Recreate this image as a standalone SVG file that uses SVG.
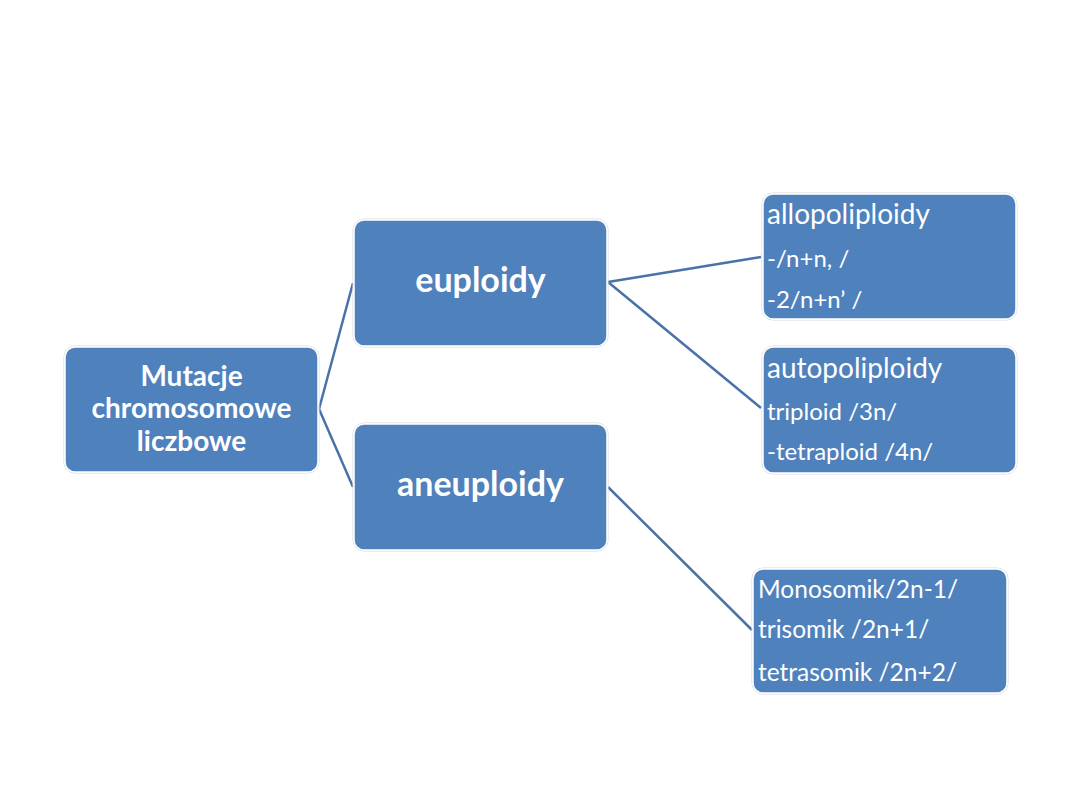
<svg xmlns="http://www.w3.org/2000/svg" width="1080" height="810" viewBox="0 0 1080 810">
<style>
.box{fill:#4F81BD;stroke:#ffffff;stroke-width:1.5}
.sh{fill:none;stroke:#d9d9d9;stroke-width:1}
.b{font-family:Lato,"Liberation Sans",sans-serif;font-weight:bold;fill:#ffffff;text-anchor:middle}
.r{font-family:Lato,"Liberation Sans",sans-serif;fill:#ffffff}
.con{stroke:#4A72A8;stroke-width:2.5;fill:none}
</style>
<rect width="1080" height="810" fill="#ffffff"/>
<g id="connectors">
<line class="con" x1="319" y1="409" x2="353" y2="283"/>
<line class="con" x1="319" y1="409" x2="353" y2="487"/>
<line class="con" x1="608" y1="282" x2="761" y2="257"/>
<line class="con" x1="608" y1="282" x2="761" y2="408"/>
<line class="con" x1="608" y1="487" x2="752" y2="630"/>
</g>
<g id="mutacje">
<rect class="sh" x="64" y="346" width="255" height="127" rx="11"/>
<rect class="box" x="65" y="347" width="253" height="125" rx="10"/>
<text class="b" font-size="28"><tspan x="191.5" y="386">Mutacje</tspan><tspan x="191.5" y="418">chromosomowe</tspan><tspan x="191.5" y="451">liczbowe</tspan></text>
</g>
<g id="euploidy">
<rect class="sh" x="353" y="219" width="255" height="128" rx="11"/>
<rect class="box" x="354" y="220" width="253" height="126" rx="10"/>
<text class="b" font-size="34" x="480.5" y="292">euploidy</text>
</g>
<g id="aneuploidy">
<rect class="sh" x="353" y="423" width="255" height="128" rx="11"/>
<rect class="box" x="354" y="424" width="253" height="126" rx="10"/>
<text class="b" font-size="34" x="480.5" y="496">aneuploidy</text>
</g>
<g id="allopoliploidy">
<rect class="sh" x="762" y="193" width="255" height="127" rx="11"/>
<rect class="box" x="763" y="194" width="253" height="125" rx="10"/>
<text class="r" font-size="28" x="767" y="224">allopoliploidy</text>
<text class="r" font-size="24" x="767" y="267">-/n+n, /</text>
<text class="r" font-size="24" x="767" y="308">-2/n+n’ /</text>
</g>
<g id="autopoliploidy">
<rect class="sh" x="762" y="346" width="255" height="128" rx="11"/>
<rect class="box" x="763" y="347" width="253" height="126" rx="10"/>
<text class="r" font-size="28" x="767" y="378">autopoliploidy</text>
<text class="r" font-size="24" x="767" y="420">triploid /3n/</text>
<text class="r" font-size="24" x="767" y="460">-tetraploid /4n/</text>
</g>
<g id="aneuploidy-types">
<rect class="sh" x="752" y="568" width="256" height="126" rx="11"/>
<rect class="box" x="753" y="569" width="254" height="124" rx="10"/>
<text class="r" font-size="24.5" x="758" y="598">Monosomik/2n-1/</text>
<text class="r" font-size="24.5" x="758" y="638">trisomik /2n+1/</text>
<text class="r" font-size="24.5" x="758" y="681">tetrasomik /2n+2/</text>
</g>
</svg>
